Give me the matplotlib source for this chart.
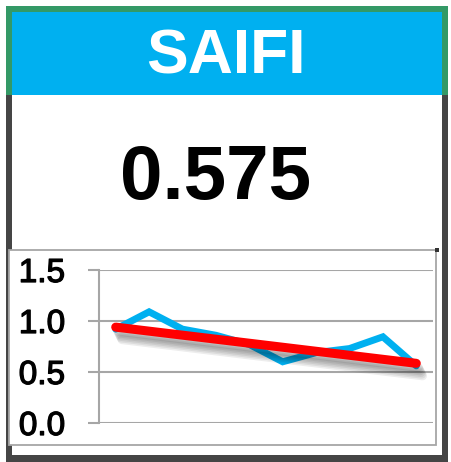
import matplotlib.pyplot as plt
import matplotlib.patches as mpatches
import matplotlib.patheffects as pe
import numpy as np

titulo = "SAIFI"
valor_actual = "0.575"
periodos = list(range(10))
saifi = [0.92, 1.09, 0.92, 0.86, 0.77, 0.60, 0.69, 0.73, 0.845, 0.56]
tendencia = [0.94, 0.585]  # inicio y fin de la linea de tendencia
y_ticks = [0.0, 0.5, 1.0, 1.5]

W, H = 452, 462
fig = plt.figure(figsize=(W / 100, H / 100), dpi=100)
fig.patch.set_facecolor('white')


def caja(x0, y0, x1, y1, **kw):
    # coordenadas en pixeles desde arriba a la izquierda
    r = mpatches.Rectangle((x0 / W, 1 - y1 / H), (x1 - x0) / W, (y1 - y0) / H,
                           transform=fig.transFigure, zorder=-10, **kw)
    fig.add_artist(r)
    return r


# marco exterior
caja(6, 6, 448, 462, facecolor='#454545', edgecolor='none')
caja(6, 6, 448, 95, facecolor='#339966', edgecolor='none')
caja(12, 12, 442, 95, facecolor='#00b0f0', edgecolor='none')
caja(12, 95, 442, 455, facecolor='white', edgecolor='none')

fig.text(226 / W, 1 - 57 / H, titulo, ha='center', va='center', color='white',
         fontsize=45, fontweight='bold', family='Liberation Sans')
fig.text(216 / W, 1 - 180 / H, valor_actual, ha='center', va='center', color='black',
         fontsize=55, fontweight='bold', family='Liberation Sans')

# marco del grafico
caja(9, 250, 436, 445, facecolor='white', edgecolor='#a6a6a6', linewidth=1.3)
caja(435, 248, 439, 252, facecolor='#333333', edgecolor='none')

ax = fig.add_axes([99 / W, 1 - 423 / H, (433 - 99) / W, (423 - 270) / H])
ax.set_zorder(5)
ax.set_facecolor('none')
x = np.array(periodos)
y = np.array(saifi)

ax.plot(x, y, color='#00b0f0', linewidth=5, solid_joinstyle='miter',
        solid_capstyle='round', zorder=3)

sombras = [pe.SimpleLineShadow(offset=(1.5 + i * 0.6, -3 - i * 1.2), shadow_color='black',
                               alpha=0.07, rho=1) for i in range(6)]
ax.plot([x[0], x[-1]], tendencia, color='#ff0000', linewidth=6.5,
        solid_capstyle='round', zorder=4, path_effects=sombras + [pe.Normal()])

ax.set_xlim(-0.5, 9.5)
ax.set_ylim(0, 1.5)
ax.set_yticks(y_ticks)
ax.set_yticklabels([f"{v:.1f}" for v in y_ticks], fontsize=24, family='Liberation Sans')
for t in ax.get_yticklabels():
    t.set_path_effects([pe.withStroke(linewidth=0.9, foreground='black')])
ax.set_xticks([])
ax.grid(axis='y', color='#a6a6a6', linewidth=1.5)
for s in ['top', 'right', 'bottom']:
    ax.spines[s].set_visible(False)
ax.spines['left'].set_color('#a6a6a6')
ax.spines['left'].set_linewidth(1.5)
ax.tick_params(axis='y', length=8, width=1.5, color='#a6a6a6', pad=16.5)
ax.set_axisbelow(True)

fig.savefig('out.png', dpi=100)
